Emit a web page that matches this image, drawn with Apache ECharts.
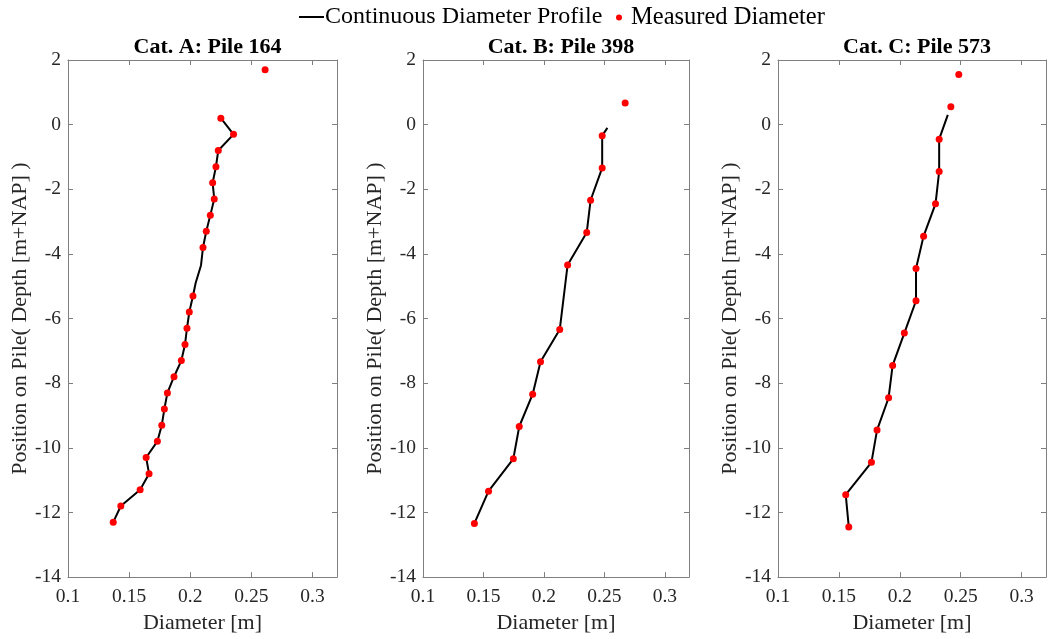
<!DOCTYPE html>
<html>
<head>
<meta charset="utf-8">
<script src="https://cdn.jsdelivr.net/npm/echarts@6/dist/echarts.min.js"></script>
<style>
html,body{margin:0;padding:0;background:#fff;}
#chart{width:1048px;height:639px;}
</style>
</head>
<body>
<div id="chart"></div>
<script>
// ---------- data ----------
const panelTitles = ['Cat. A: Pile 164', 'Cat. B: Pile 398', 'Cat. C: Pile 573'];
const xTicks = [0.1, 0.15, 0.2, 0.25, 0.3];
const yTicks = [-14, -12, -10, -8, -6, -4, -2, 0, 2];

// Pile 164 (Cat. A)
const aLineDepth = [0.2, -0.3, -0.8, -1.3, -1.8, -2.3, -2.8, -3.3, -3.8, -4.35, -4.9, -5.3, -5.8, -6.3, -6.8, -7.3, -7.8, -8.3, -8.8, -9.3, -9.8, -10.3, -10.8, -11.3, -11.8, -12.3];
const aLineDiam  = [0.225, 0.2354, 0.2229, 0.221, 0.2183, 0.2196, 0.2164, 0.2131, 0.2104, 0.2088, 0.2044, 0.2022, 0.1992, 0.1973, 0.1957, 0.1927, 0.1867, 0.1813, 0.1788, 0.1767, 0.1731, 0.1639, 0.1663, 0.159, 0.1432, 0.137];
const aMeasDepth = [1.7, 0.2, -0.3, -0.8, -1.3, -1.8, -2.3, -2.8, -3.3, -3.8, -5.3, -5.8, -6.3, -6.8, -7.3, -7.8, -8.3, -8.8, -9.3, -9.8, -10.3, -10.8, -11.3, -11.8, -12.3];
const aMeasDiam  = [0.2612, 0.225, 0.2354, 0.2229, 0.221, 0.2183, 0.2196, 0.2164, 0.2131, 0.2104, 0.2022, 0.1992, 0.1973, 0.1957, 0.1927, 0.1867, 0.1813, 0.1788, 0.1767, 0.1731, 0.1639, 0.1663, 0.159, 0.1432, 0.137];

// Pile 398 (Cat. B)
const bLineDepth = [-0.1, -0.34, -1.34, -2.34, -3.34, -4.34, -6.34, -7.34, -8.34, -9.34, -10.34, -11.34, -12.34];
const bLineDiam  = [0.2525, 0.2482, 0.2482, 0.2386, 0.2354, 0.2196, 0.2131, 0.1972, 0.1907, 0.1796, 0.1747, 0.1542, 0.1425];
const bMeasDepth = [0.67, -0.34, -1.34, -2.34, -3.34, -4.34, -6.34, -7.34, -8.34, -9.34, -10.34, -11.34, -12.34];
const bMeasDiam  = [0.2672, 0.2482, 0.2482, 0.2386, 0.2354, 0.2196, 0.2131, 0.1972, 0.1907, 0.1796, 0.1747, 0.1542, 0.1425];

// Pile 573 (Cat. C)
const cLineDepth = [0.3, -0.45, -1.45, -2.45, -3.45, -4.45, -5.45, -6.45, -7.45, -8.45, -9.45, -10.45, -11.45, -12.45];
const cLineDiam  = [0.2394, 0.2323, 0.2323, 0.2293, 0.2195, 0.2133, 0.2133, 0.2037, 0.1941, 0.1908, 0.1813, 0.1767, 0.1556, 0.1581];
const cMeasDepth = [1.55, 0.55, -0.45, -1.45, -2.45, -3.45, -4.45, -5.45, -6.45, -7.45, -8.45, -9.45, -10.45, -11.45, -12.45];
const cMeasDiam  = [0.2484, 0.2419, 0.2323, 0.2323, 0.2293, 0.2195, 0.2133, 0.2133, 0.2037, 0.1941, 0.1908, 0.1813, 0.1767, 0.1556, 0.1581];

const lineSets = [[aLineDiam, aLineDepth], [bLineDiam, bLineDepth], [cLineDiam, cLineDepth]];
const measSets = [[aMeasDiam, aMeasDepth], [bMeasDiam, bMeasDepth], [cMeasDiam, cMeasDepth]];

// ---------- chart ----------
const FONT = '"Liberation Serif", "Times New Roman", serif';
const TXT = '#262626';
const AX = '#7f7f7f';
const grids = [
  {left: 68, right: 1048 - 337, top: 60, bottom: 59},
  {left: 423, right: 1048 - 689, top: 60, bottom: 59},
  {left: 778, right: 1048 - 1046, top: 60, bottom: 59}
];
const pairs = (xs, ys) => xs.map((v, i) => [v, ys[i]]);
const xFmt = v => String(+v.toFixed(2));

const xAxes = [], yAxes = [], series = [], titles = [];
grids.forEach((g, i) => {
  const common = {gridIndex: i, type: 'value', splitLine: {show: false},
    axisLine: {show: true, onZero: false, lineStyle: {color: AX, width: 1}},
    axisTick: {show: true, inside: true, length: 5, lineStyle: {color: AX}}};
  xAxes.push(Object.assign({}, common, {position: 'bottom', min: 0.1, max: 0.32, interval: 0.05,
    name: 'Diameter [m]', nameLocation: 'middle', nameGap: 31,
    nameTextStyle: {fontFamily: FONT, fontSize: 22, color: TXT},
    axisLabel: {show: true, fontFamily: FONT, fontSize: 19.5, color: TXT, margin: 10, formatter: xFmt, showMaxLabel: false}}));
  xAxes.push(Object.assign({}, common, {position: 'top', min: 0.1, max: 0.32, interval: 0.05,
    axisLabel: {show: false}}));
  yAxes.push(Object.assign({}, common, {position: 'left', min: -14, max: 2, interval: 2,
    name: 'Position on Pile( Depth [m+NAP] )', nameLocation: 'middle', nameGap: 35,
    nameTextStyle: {fontFamily: FONT, fontSize: 22, color: TXT},
    axisLabel: {show: true, fontFamily: FONT, fontSize: 19.5, color: TXT, margin: 7}}));
  yAxes.push(Object.assign({}, common, {position: 'right', min: -14, max: 2, interval: 2,
    axisLabel: {show: false}}));

  series.push({name: 'Continuous Diameter Profile', type: 'line', xAxisIndex: 2 * i, yAxisIndex: 2 * i,
    data: pairs(lineSets[i][0], lineSets[i][1]), showSymbol: false, symbol: 'none',
    lineStyle: {color: '#000', width: 2}, itemStyle: {color: '#000'}, z: 2, animation: false});
  series.push({name: 'Measured Diameter', type: 'scatter', xAxisIndex: 2 * i, yAxisIndex: 2 * i,
    data: pairs(measSets[i][0], measSets[i][1]), symbol: 'circle', symbolSize: 7,
    itemStyle: {color: '#ff0000', opacity: 1}, z: 3, animation: false});

  const cx = g.left + (1048 - g.right - g.left) / 2;
  titles.push({text: panelTitles[i], left: cx, top: 31, textAlign: 'center',
    textStyle: {fontFamily: FONT, fontSize: 22, fontWeight: 'bold', color: '#000'}});
});

const chart = echarts.init(document.getElementById('chart'), null, {renderer: 'canvas'});
chart.setOption({
  animation: false,
  backgroundColor: '#fff',
  title: titles,
  grid: grids,
  xAxis: xAxes,
  yAxis: yAxes,
  legend: [
    {data: ['Continuous Diameter Profile'], left: 294, top: 0, icon: 'rect', itemWidth: 25, itemHeight: 2,
      itemGap: 0, textStyle: {fontFamily: FONT, fontSize: 24, color: '#000', padding: [0,0,0,-4]}},
    {data: ['Measured Diameter'], left: 611, top: 0, icon: 'circle', itemWidth: 6, itemHeight: 6,
      textStyle: {fontFamily: FONT, fontSize: 24.5, color: '#000', padding: [0,0,0,4]}}
  ],
  series: series
});
</script>
</body>
</html>
